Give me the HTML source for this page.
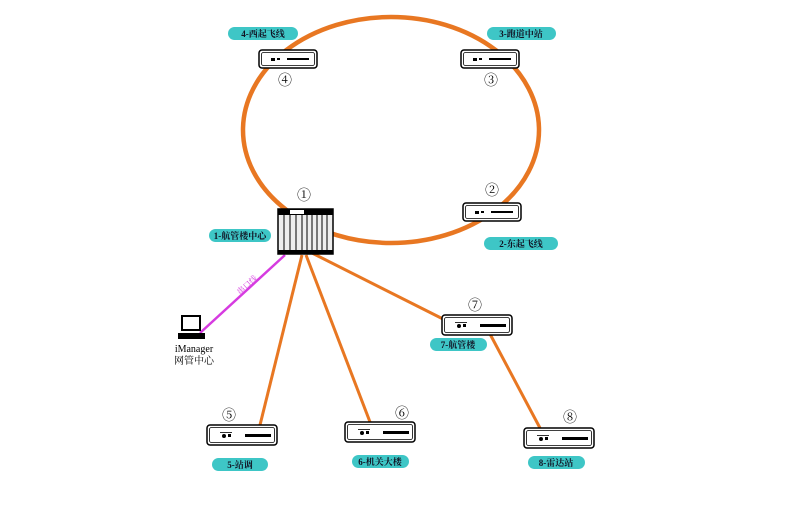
<!DOCTYPE html>
<html><head><meta charset="utf-8"><style>
body{margin:0;background:#fff}
svg{display:block}
text{font-family:"Liberation Serif","Noto Serif CJK SC",serif}
</style></head><body>
<svg width="803" height="510" viewBox="0 0 803 510" xmlns="http://www.w3.org/2000/svg">
<defs>
<g id="dev">
<rect x="0" y="0" width="58" height="18" rx="3" fill="#fff" stroke="#000" stroke-width="1.5"/>
<rect x="2.5" y="2.5" width="53" height="13" rx="2" fill="none" stroke="#000" stroke-width="0.8"/>
<rect x="12" y="8" width="4" height="3" fill="#000"/><rect x="18" y="8" width="3" height="2" fill="#000"/>
<rect x="28" y="8" width="22" height="2" fill="#000"/>
</g>
<g id="dev2">
<rect x="0" y="0" width="70" height="20" rx="3" fill="#fff" stroke="#000" stroke-width="1.5"/>
<rect x="2.5" y="2.5" width="65" height="15" rx="2" fill="none" stroke="#000" stroke-width="0.8"/>
<circle cx="17" cy="11" r="2" fill="#000"/><rect x="21" y="9" width="3" height="3" fill="#000"/>
<rect x="13" y="7" width="12" height="0.8" fill="#000"/>
<rect x="38" y="9" width="26" height="3" fill="#000"/>
</g>
</defs>
<ellipse cx="391" cy="130" rx="148" ry="113" fill="none" stroke="#E87722" stroke-width="4.5"/>
<g stroke="#E87722" stroke-width="3">
<line x1="302" y1="255" x2="260" y2="425"/>
<line x1="306" y1="255" x2="370" y2="422"/>
<line x1="310" y1="252" x2="445" y2="320"/>
<line x1="490" y1="334" x2="540" y2="428"/>
</g>
<line x1="285" y1="255" x2="200" y2="333" stroke="#D63BE0" stroke-width="2.5"/>
<text x="240" y="295" font-size="8" fill="#D63BE0" transform="rotate(-42 240 295)">串口线</text>
<use href="#dev" x="259" y="50"/><use href="#dev" x="461" y="50"/><use href="#dev" x="463" y="203"/>
<use href="#dev2" x="442" y="315"/><use href="#dev2" x="207" y="425"/><use href="#dev2" x="345" y="422"/><use href="#dev2" x="524" y="428"/>
<!-- chassis -->
<rect x="278" y="209" width="55" height="45" fill="#eee" stroke="#000" stroke-width="1.5"/>
<rect x="278" y="209" width="55" height="6" fill="#000"/>
<rect x="290" y="210" width="14" height="4" fill="#fff"/>
<rect x="278" y="250" width="55" height="4" fill="#000"/>
<g stroke="#000" stroke-width="1"><line x1="284" y1="215" x2="284" y2="250"/><line x1="290" y1="215" x2="290" y2="250"/><line x1="296" y1="215" x2="296" y2="250"/><line x1="302" y1="215" x2="302" y2="250"/><line x1="307" y1="215" x2="307" y2="250"/><line x1="312" y1="215" x2="312" y2="250"/><line x1="317" y1="215" x2="317" y2="250"/><line x1="322" y1="215" x2="322" y2="250"/><line x1="327" y1="215" x2="327" y2="250"/></g>
<!-- computer -->
<rect x="182" y="316" width="18" height="14" fill="#fff" stroke="#000" stroke-width="2"/>
<rect x="178" y="333" width="27" height="6" fill="#000"/>
<text x="194" y="352" font-size="10" text-anchor="middle">iManager</text>
<text x="194" y="364" font-size="10" text-anchor="middle">网管中心</text>
<g font-size="14" text-anchor="middle">
<text x="304" y="200">①</text><text x="492" y="195">②</text><text x="491" y="85">③</text><text x="285" y="85">④</text>
<text x="229" y="420">⑤</text><text x="402" y="418">⑥</text><text x="475" y="310">⑦</text><text x="570" y="422">⑧</text>
</g>
<g fill="#3EC6C6">
<rect x="228" y="27" width="70" height="13" rx="6.5"/><rect x="487" y="27" width="69" height="13" rx="6.5"/>
<rect x="484" y="237" width="74" height="13" rx="6.5"/><rect x="209" y="229" width="62" height="13" rx="6.5"/>
<rect x="430" y="338" width="57" height="13" rx="6.5"/><rect x="212" y="458" width="56" height="13" rx="6.5"/>
<rect x="352" y="455" width="57" height="13" rx="6.5"/><rect x="528" y="456" width="57" height="13" rx="6.5"/>
</g>
<g font-size="9" text-anchor="middle" fill="#112" font-weight="bold">
<text x="263" y="37">4-西起飞线</text><text x="521" y="37">3-跑道中站</text>
<text x="521" y="247">2-东起飞线</text><text x="240" y="239">1-航管楼中心</text>
<text x="458" y="348">7-航管楼</text><text x="240" y="468">5-站调</text>
<text x="380" y="465">6-机关大楼</text><text x="556" y="466">8-雷达站</text>
</g>
</svg>
</body></html>
